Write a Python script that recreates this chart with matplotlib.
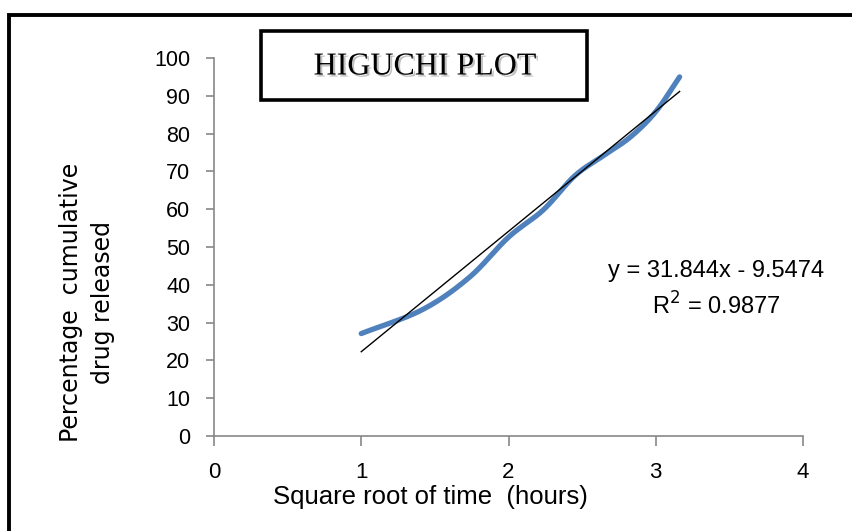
import numpy as np
import matplotlib
matplotlib.use("Agg")
import matplotlib.pyplot as plt
from matplotlib.patches import Rectangle
import matplotlib.patheffects as pe

# Data
sqrt_time = [1.0, 1.414, 1.732, 2.0, 2.236, 2.449, 2.646, 2.828, 3.0, 3.162]
cum_release = [27.1, 33.4, 41.9, 52.6, 59.8, 68.8, 74.2, 79.1, 85.8, 95.0]
slope = 31.844
intercept = -9.5474
equation_text = "y = 31.844x - 9.5474\nR$^2$ = 0.9877"
x_ticks = [0, 1, 2, 3, 4]
y_ticks = [0, 10, 20, 30, 40, 50, 60, 70, 80, 90, 100]

NARROW = ['Liberation Sans Narrow', 'Liberation Sans', 'DejaVu Sans']


def catmull_rom(xs, ys, n=30):
    pts = np.column_stack([xs, ys]).astype(float)
    p = np.vstack([2 * pts[0] - pts[1], pts, 2 * pts[-1] - pts[-2]])
    out = []
    for i in range(1, len(p) - 2):
        p0, p1, p2, p3 = p[i - 1], p[i], p[i + 1], p[i + 2]
        t = np.linspace(0, 1, n, endpoint=False)[:, None]
        seg = 0.5 * ((2 * p1) + (-p0 + p2) * t + (2 * p0 - 5 * p1 + 4 * p2 - p3) * t ** 2
                     + (-p0 + 3 * p1 - 3 * p2 + p3) * t ** 3)
        out.append(seg)
    out.append(pts[-1][None, :])
    out = np.vstack(out)
    return out[:, 0], out[:, 1]


fig = plt.figure(figsize=(8.52, 5.31), dpi=100)
ax = fig.add_axes([214 / 852, 1 - 436 / 531, (803 - 214) / 852, (436 - 58) / 531])

sx, sy = catmull_rom(sqrt_time, cum_release)
ax.plot(sx, sy, color='#4F81BD', lw=3.8, solid_capstyle='round', zorder=3)

xl = np.array([sqrt_time[0], sqrt_time[-1]])
ax.plot(xl, slope * xl + intercept, color='black', lw=1.0, zorder=4)

ax.set_xlim(0, 4)
ax.set_ylim(0, 100)
ax.set_xticks(x_ticks)
ax.set_yticks(y_ticks)
ax.set_xticklabels([str(v) for v in x_ticks], family=NARROW, fontsize=16)
ax.set_yticklabels([str(v) for v in y_ticks], family=NARROW, fontsize=15.5)
for s in ['top', 'right']:
    ax.spines[s].set_visible(False)
for s in ['left', 'bottom']:
    ax.spines[s].set_color('#878787')
    ax.spines[s].set_linewidth(1.2)
ax.tick_params(axis='y', direction='out', length=6, width=1.2, color='#878787', pad=11)
ax.tick_params(axis='x', direction='out', length=7, width=1.2, color='#878787', pad=12)

fig.text(430 / 852, 1 - 497 / 531, "Square root of time  (hours)", ha='center', va='center',
         family=NARROW, fontsize=18.5)
fig.text(87 / 852, 1 - 302 / 531, "Percentage  cumulative\ndrug released", rotation=90,
         ha='center', va='center', fontsize=17, family='DejaVu Sans', linespacing=1.45)

fig.text(716 / 852, 1 - 290 / 531, equation_text, ha='center', va='center',
         family=NARROW, fontsize=17, linespacing=1.45)

# Title box
fig.patches.append(Rectangle((261 / 852, 1 - 100 / 531), (587 - 261) / 852, (100 - 31) / 531,
                             transform=fig.transFigure, fill=False, edgecolor='black', lw=2.6))
fig.text(425 / 852, 1 - 67 / 531, "HIGUCHI PLOT", ha='center', va='center',
         family=['Liberation Serif', 'DejaVu Serif'], fontsize=23,
         path_effects=[pe.withSimplePatchShadow(offset=(1.5, -1.5), shadow_rgbFace='#999999', alpha=0.6)])

# Outer frame
fig.patches.append(Rectangle((9 / 852, -0.1), 1.2, (1 - 15 / 531) + 0.1,
                             transform=fig.transFigure, fill=False, edgecolor='black', lw=2.8))

fig.savefig("out.png", dpi=100)
